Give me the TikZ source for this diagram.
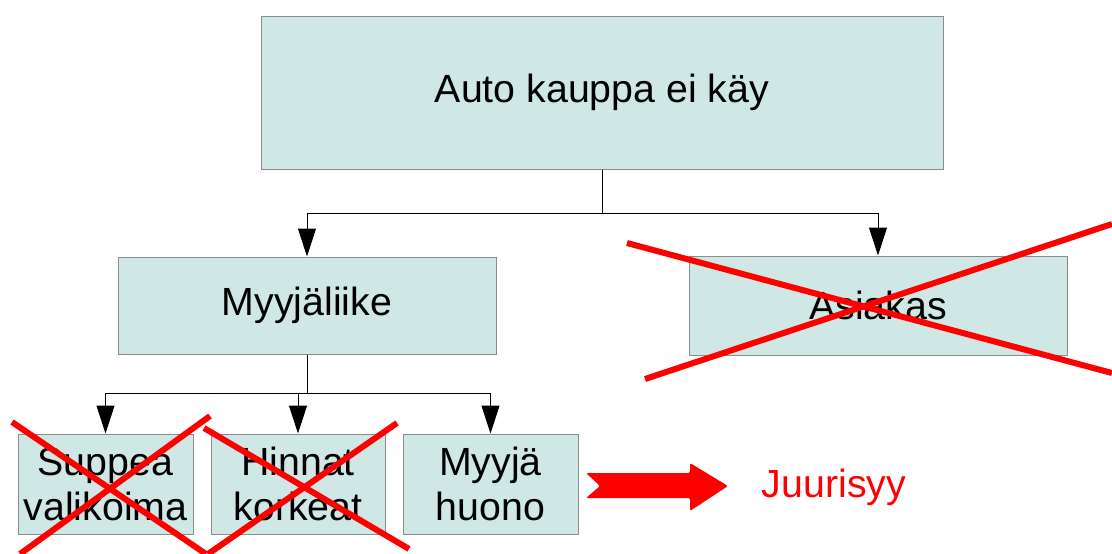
\documentclass[tikz,border=0pt]{standalone}
\usepackage{fontspec}
\setmainfont{Liberation Sans}
\usetikzlibrary{arrows.meta}
\definecolor{boxfill}{HTML}{CFE7E5}
\definecolor{boxline}{HTML}{8C8C8C}
\definecolor{xred}{HTML}{FF0000}
\begin{document}
\begin{tikzpicture}[x=1pt,y=-1pt,
  box/.style={draw=boxline,fill=boxfill,line width=1pt,inner sep=0pt,align=center,
    font=\fontsize{39.3}{45}\selectfont},
  conn/.style={draw=black,line width=1pt,-{Triangle[length=28pt,width=18pt]}},
  cross/.style={draw=xred,line width=6pt},
  lbl/.style={inner sep=0pt,font=\fontsize{39.3}{45}\selectfont,text=xred}]
\useasboundingbox (0,0) rectangle (1112,554);
\node[box,minimum width=682pt,minimum height=153pt] (top) at (602,92.5) {Auto kauppa ei käy};
\node[box,minimum width=378pt,minimum height=97pt] (myy) at (307,305.5) {Myyjäliike};
\node[box,minimum width=378pt,minimum height=99pt] (asi) at (878,305.5) {Asiakas};
\node[box,minimum width=175pt,minimum height=100pt] (sup) at (105.5,484) {Suppea\\valikoima};
\node[box,minimum width=174pt,minimum height=100pt] (hin) at (298,484) {Hinnat\\korkeat};
\node[box,minimum width=175pt,minimum height=100pt] (mh) at (490.5,484) {Myyjä\\huono};
\coordinate (j1) at (602,213);
\coordinate (j2) at (307,393);
\draw[conn] (top.south) -- (j1) -| (myy.north);
\draw[conn] (j1) -| (asi.north);
\draw[conn] (myy.south) -- (j2) -| (sup.north);
\draw[conn] (j2) -| (hin.north);
\draw[conn] (j2) -| (mh.north);
% crosses
\draw[cross] (627,243) -- (1112,373);
\draw[cross] (645,379) -- (1112,224);
\draw[cross] (12,422) -- (206,554);
\draw[cross] (210,416) -- (20,554);
\draw[cross] (204,428) -- (409,549);
\draw[cross] (397,423) -- (208,554);
% red arrow
\fill[xred,rounded corners=2pt] (586,473) -- (690,473) -- (690,463) -- (728,486) -- (690,511) -- (690,498) -- (586,498) -- (600,486) -- cycle;
\node[lbl] (js) at (834,487) {Juurisyy};
\end{tikzpicture}
\end{document}
